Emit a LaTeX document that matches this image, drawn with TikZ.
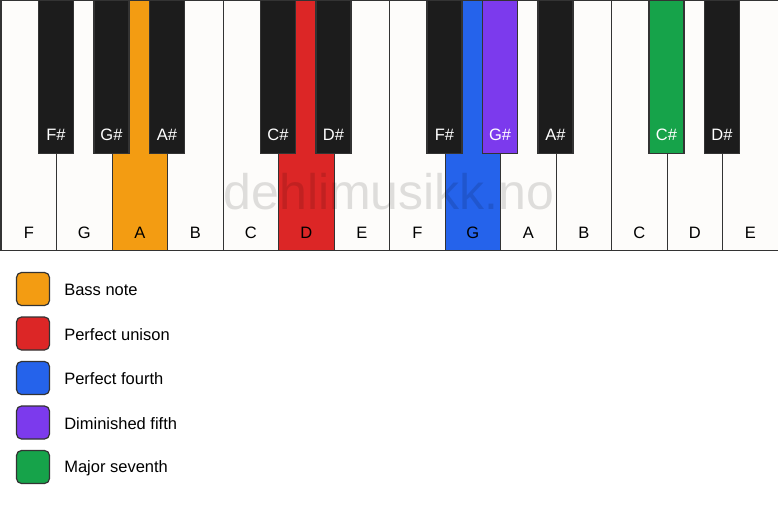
\documentclass[tikz,border=0pt]{standalone}
\usepackage{fontspec}
\setmainfont{Liberation Sans}
\usepackage{tikz}
\usetikzlibrary{positioning}

\definecolor{keywhite}{HTML}{FDFCFA}
\definecolor{keyblack}{HTML}{1C1C1C}
\definecolor{keyline}{HTML}{333333}
\definecolor{bassnote}{HTML}{F39C12}
\definecolor{unison}{HTML}{DC2626}
\definecolor{fourth}{HTML}{2563EB}
\definecolor{dimfifth}{HTML}{7C3AED}
\definecolor{seventh}{HTML}{16A34A}

\tikzset{
  whitekey/.style={draw=keyline, line width=1.2pt, anchor=north west, minimum width=55.5pt, minimum height=250pt, inner sep=0pt},
  blackkey/.style={draw=keyline, line width=1.2pt, anchor=north, minimum width=35pt, minimum height=153pt, inner sep=0pt},
  swatch/.style={draw=keyline, line width=1.2pt, rounded corners=5pt, minimum size=33pt, inner sep=0pt},
  keytext/.style={font=\fontsize{16.5}{19}\selectfont}
}

\begin{document}
\begin{tikzpicture}[x=1pt, y=-1pt]
  \useasboundingbox[fill=white] (0,0) rectangle (778,506);
  % white keys
  \foreach \n/\c [count=\i from 0] in {F/keywhite, G/keywhite, A/bassnote, B/keywhite, C/keywhite, D/unison, E/keywhite,
      F/keywhite, G/fourth, A/keywhite, B/keywhite, C/keywhite, D/keywhite, E/keywhite} {
    \node [whitekey, fill=\c] (w\i) at ({\i*55.5+0.5},0) {};
    \node [keytext, anchor=base] (wl\i) at ([yshift=13pt]w\i.south) {\n};
  }
  % watermark
  \node [font=\fontsize{50}{60}\selectfont, text=black, text opacity=0.12, anchor=base] (mark) at (389,209) {dehlimusikk.no};
  % black keys
  \foreach \b/\n/\c in {1/F/keyblack, 2/G/keyblack, 3/A/keyblack, 5/C/keyblack, 6/D/keyblack,
      8/F/keyblack, 9/G/dimfifth, 10/A/keyblack, 12/C/seventh, 13/D/keyblack} {
    \node [blackkey, fill=\c] (b\b) at ({\b*55.5+0.5},0) {};
    \node [keytext, text=white, anchor=base] (bl\b) at ([yshift=14pt]b\b.south) {\n\#};
  }
  % legend
  \foreach \c/\t [count=\i from 0] in {bassnote/Bass note, unison/Perfect unison, fourth/Perfect fourth,
      dimfifth/Diminished fifth, seventh/Major seventh} {
    \node [swatch, fill=\c] (s\i) at (33,{289+\i*44.5}) {};
    \node [keytext, anchor=west, inner sep=0pt, right=14pt of s\i, yshift=-1pt] (t\i) {\t};
  }
\end{tikzpicture}
\end{document}
